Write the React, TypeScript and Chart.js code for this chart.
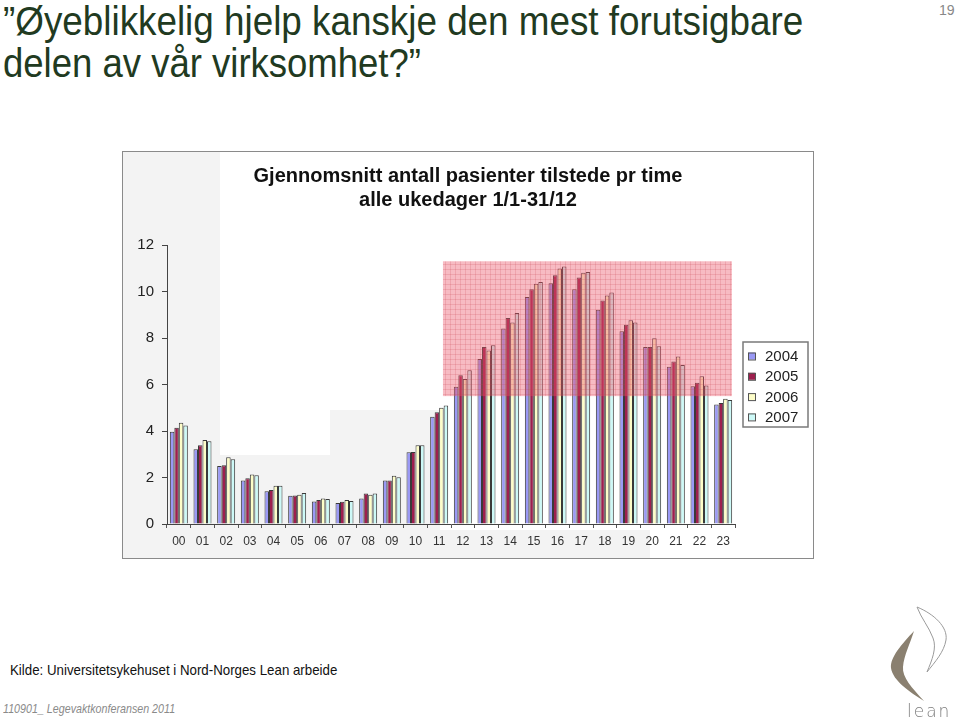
import React, { useEffect, useLayoutEffect, useRef, useState } from 'react';
import { Chart, registerables } from 'chart.js';

Chart.register(...registerables);

// ---------- data ----------
const HOURS = ['00','01','02','03','04','05','06','07','08','09','10','11','12','13','14','15','16','17','18','19','20','21','22','23'];
const YEARS = ['2004', '2005', '2006', '2007'];
const Y2004 = [3.97, 3.21, 2.5, 1.87, 1.41, 1.21, 0.97, 0.9, 1.1, 1.87, 3.09, 4.61, 5.9, 7.1, 8.41, 9.76, 10.36, 10.1, 9.21, 8.29, 7.61, 6.76, 5.93, 5.14];
const Y2005 = [4.14, 3.39, 2.53, 1.97, 1.46, 1.23, 1.03, 0.96, 1.31, 1.87, 3.1, 4.81, 6.4, 7.61, 8.86, 10.1, 10.7, 10.6, 9.61, 8.57, 7.61, 6.99, 6.07, 5.2];
const Y2006 = [4.36, 3.61, 2.87, 2.13, 1.64, 1.26, 1.1, 1.03, 1.26, 2.07, 3.39, 5.0, 6.24, 7.46, 8.67, 10.33, 10.99, 10.81, 9.83, 8.76, 7.99, 7.2, 6.36, 5.39];
const Y2007 = [4.24, 3.56, 2.79, 2.1, 1.64, 1.33, 1.07, 0.99, 1.31, 2.01, 3.39, 5.1, 6.61, 7.69, 9.07, 10.41, 11.07, 10.84, 9.96, 8.67, 7.64, 6.84, 5.96, 5.33];
const SERIES = [Y2004, Y2005, Y2006, Y2007];
const COLORS = ['#9a99f5', '#9e1f4e', '#fdfdc8', '#cdf9f7'];
const Y_MIN = 0;
const Y_MAX = 12;
const Y_STEP = 2;
const CHART_TITLE = ['Gjennomsnitt antall pasienter tilstede pr time', 'alle ukedager 1/1-31/12'];
// highlighted (busy) zone, in axis units: hour index range and patient range
const HIGHLIGHT_X = [11.16, 23.37];
const HIGHLIGHT_Y = [5.5, 11.3];

const SLIDE_TITLE_1 = '\u201DØyeblikkelig hjelp kanskje den mest forutsigbare';
const SLIDE_TITLE_2 = 'delen av vår virksomhet?\u201D';
const SOURCE = 'Kilde: Universitetsykehuset i Nord-Norges Lean arbeide';
const FOOTER = '110901_ Legevaktkonferansen 2011';
const PAGE_NO = '19';

const FONT = '"Liberation Sans", Arial, Helvetica, sans-serif';

// light-grey background patches of the pasted picture (canvas coords)
const GRAY_PATCHES: number[][] = [
  [0, 0, 97, 406],
  [97, 303, 110, 103],
  [207, 258, 110, 148],
  [317, 378, 210, 28],
];

const slidePlugin = {
  id: 'slideDecor',
  beforeDraw(chart: any) {
    const { ctx, width, height } = chart;
    ctx.save();
    ctx.fillStyle = '#ffffff';
    ctx.fillRect(0, 0, width, height);
    ctx.fillStyle = '#f3f3f3';
    for (const [x, y, w, h] of GRAY_PATCHES) ctx.fillRect(x, y, w, h);
    ctx.restore();
  },
  afterDatasetsDraw(chart: any) {
    const { ctx } = chart;
    const xs = chart.scales.x;
    const ys = chart.scales.y;
    const l = xs.getPixelForValue(HIGHLIGHT_X[0]);
    const r = xs.getPixelForValue(HIGHLIGHT_X[1]);
    const t = ys.getPixelForValue(HIGHLIGHT_Y[1]);
    const b = ys.getPixelForValue(HIGHLIGHT_Y[0]);
    ctx.save();
    ctx.fillStyle = 'rgba(236, 84, 104, 0.40)';
    ctx.fillRect(l, t, r - l, b - t);
    ctx.beginPath();
    ctx.rect(l, t, r - l, b - t);
    ctx.clip();
    ctx.strokeStyle = 'rgba(200, 60, 80, 0.18)';
    ctx.lineWidth = 1;
    ctx.beginPath();
    for (let x = l + 2.5; x < r; x += 5) { ctx.moveTo(Math.round(x) + 0.5, t); ctx.lineTo(Math.round(x) + 0.5, b); }
    for (let y = t + 2.5; y < b; y += 5) { ctx.moveTo(l, Math.round(y) + 0.5); ctx.lineTo(r, Math.round(y) + 0.5); }
    ctx.stroke();
    ctx.restore();
  },
  afterDraw(chart: any) {
    const { ctx, chartArea } = chart;
    const boxL = chartArea.right + 8;
    const boxW = 65;
    const rowH = 20.3;
    const boxH = 85;
    const boxT = (chartArea.top + chartArea.bottom) / 2 - boxH / 2;
    ctx.save();
    ctx.strokeStyle = '#7a7a7a';
    ctx.lineWidth = 1.5;
    ctx.strokeRect(boxL, boxT, boxW, boxH);
    ctx.font = '15px ' + FONT;
    ctx.textBaseline = 'middle';
    ctx.textAlign = 'left';
    chart.data.datasets.forEach((ds: any, i: number) => {
      const cy = boxT + 14 + i * rowH;
      ctx.fillStyle = ds.backgroundColor;
      ctx.fillRect(boxL + 5, cy - 3.5, 7, 7);
      ctx.strokeStyle = '#555';
      ctx.lineWidth = 1;
      ctx.strokeRect(boxL + 5.5, cy - 3, 7, 7);
      ctx.fillStyle = '#222';
      ctx.fillText(ds.label, boxL + 22, cy + 1);
    });
    ctx.restore();
  },
};

function FitText({ text, left, top, width, style }: any) {
  const ref = useRef<HTMLSpanElement>(null);
  const [sx, setSx] = useState(1);
  useLayoutEffect(() => {
    if (ref.current) {
      const w = ref.current.offsetWidth;
      if (w > 0) setSx(width / w);
    }
  }, [text, width]);
  return (
    <span
      ref={ref}
      style={{
        position: 'absolute', left, top, whiteSpace: 'nowrap',
        transform: `scaleX(${sx})`, transformOrigin: 'left top',
        ...style,
      }}
    >{text}</span>
  );
}

function BarChart() {
  const ref = useRef<HTMLCanvasElement>(null);
  useEffect(() => {
    if (!ref.current) return;
    const chart = new Chart(ref.current, {
      type: 'bar',
      data: {
        labels: HOURS,
        datasets: YEARS.map((y, i) => ({
          label: y,
          data: SERIES[i],
          backgroundColor: COLORS[i],
          borderColor: '#3a3a3a',
          borderWidth: 1,
          categoryPercentage: 0.76,
          barPercentage: 1.0,
          yAxisID: 'y',
        })),
      },
      options: {
        responsive: false,
        animation: false,
        devicePixelRatio: 1,
        layout: { padding: 0 },
        plugins: {
          legend: { display: false },
          tooltip: { enabled: false },
          title: {
            display: true,
            text: CHART_TITLE,
            color: '#111',
            font: { family: FONT, size: 20, weight: 'bold', lineHeight: 1.2 },
            padding: { top: 12, bottom: 33 },
          },
        },
        scales: {
          x: {
            offset: true,
            grid: { display: true, drawOnChartArea: false, tickLength: 4, color: '#555', offset: true },
            border: { display: true, color: '#444', width: 1 },
            ticks: { color: '#333', font: { family: FONT, size: 12 }, padding: 6, maxRotation: 0, autoSkip: false },
            afterFit: (s: any) => { s.height = 34; },
          },
          y: {
            min: Y_MIN,
            max: Y_MAX,
            grid: { display: true, drawOnChartArea: false, tickLength: 5, color: '#444' },
            border: { display: true, color: '#444', width: 1 },
            ticks: { stepSize: Y_STEP, color: '#222', font: { family: FONT, size: 15 }, padding: 8 },
            afterFit: (s: any) => { s.width = 44; },
          },
          // empty right-hand axis reserving room for the legend box
          legendSpace: {
            type: 'linear',
            position: 'right',
            min: Y_MIN,
            max: Y_MAX,
            grid: { display: false, drawOnChartArea: false },
            border: { display: false },
            ticks: { display: false },
            afterFit: (s: any) => { s.width = 78; },
          },
        },
      },
      plugins: [slidePlugin],
    } as any);
    return () => chart.destroy();
  }, []);
  return <canvas ref={ref} width={690} height={406} style={{ position: 'absolute', left: 123, top: 152, width: 690, height: 406 }} />;
}

function Logo() {
  return (
    <svg width={960} height={721} style={{ position: 'absolute', left: 0, top: 0, pointerEvents: 'none' }}>
      <path d="M914,631 C902,644 890,657 891,668 C893,681 910,692 924,701 C912,688 902,677 903,667 C904,655 910,644 914,631 Z" fill="#8a8070" />
      <path d="M917,607 C934,614 948,627 946,640 C944,652 935,662 927,672 C932,660 937,648 933,638 C929,627 921,618 917,607 Z" fill="none" stroke="#9a9a9a" strokeWidth={1} />
      <text x={907} y={717} fontFamily='"DejaVu Sans", sans-serif' fontSize={17} fontWeight={200} fill="#7d7d7d" letterSpacing={2}>lean</text>
    </svg>
  );
}

export default function App() {
  useEffect(() => {
    document.body.style.margin = '0';
  }, []);
  return (
    <div style={{ position: 'absolute', left: 0, top: 0, width: 960, height: 721, background: '#fff', overflow: 'hidden', fontFamily: FONT }}>
      <FitText text={SLIDE_TITLE_1} left={3} top={0} width={800} style={{ fontSize: 40, lineHeight: '42px', color: '#213a21' }} />
      <FitText text={SLIDE_TITLE_2} left={3} top={42} width={418} style={{ fontSize: 40, lineHeight: '42px', color: '#213a21' }} />
      <FitText text={PAGE_NO} left={939} top={1} width={16} style={{ fontSize: 15, lineHeight: '18px', color: '#888' }} />
      <div style={{ position: 'absolute', left: 122, top: 151, width: 690, height: 406, border: '1.5px solid #8a8a8a' }} />
      <BarChart />
      <FitText text={SOURCE} left={10} top={661} width={327} style={{ fontSize: 15, lineHeight: '18px', color: '#111' }} />
      <FitText text={FOOTER} left={3} top={701} width={172} style={{ fontSize: 13, lineHeight: '16px', color: '#8a8a8a', fontStyle: 'italic' }} />
      <Logo />
    </div>
  );
}
